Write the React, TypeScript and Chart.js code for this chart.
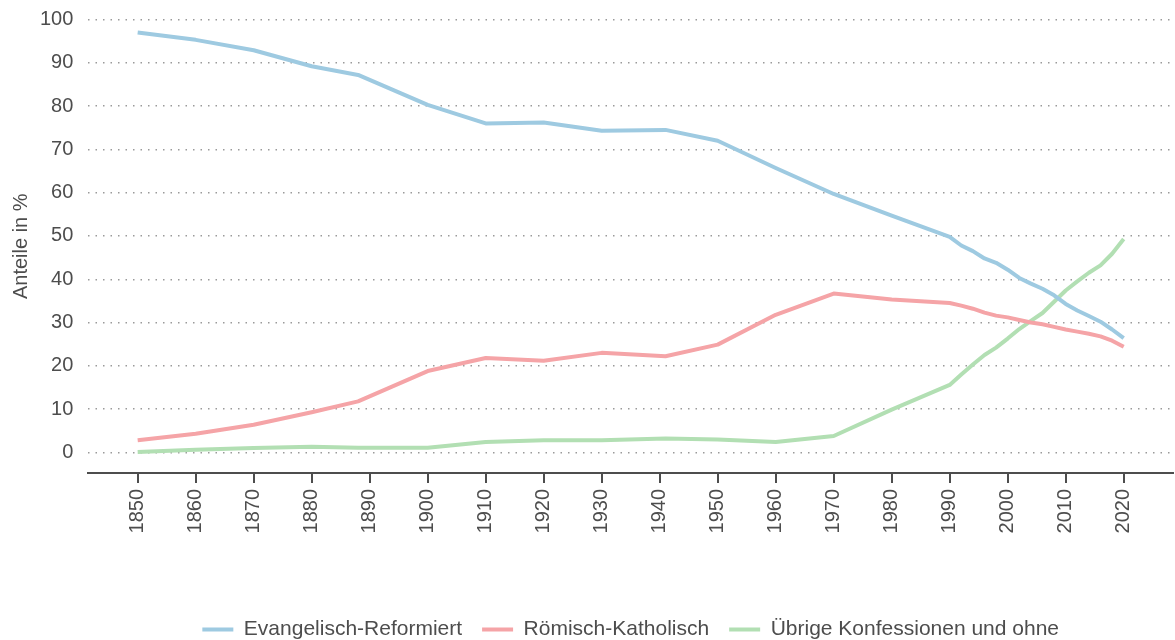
import React, { useEffect, useRef } from "react";
import { Chart, registerables } from "chart.js";

Chart.register(...registerables);

// Survey years (irregular) and shares in percent
const years = [1850, 1860, 1870, 1880, 1888, 1900, 1910, 1920, 1930, 1941, 1950, 1960, 1970, 1980, 1990, 1992, 1994, 1996, 1998, 2000, 2002, 2004, 2006, 2008, 2010, 2012, 2014, 2016, 2018, 2020];
const reformiert = [97.0, 95.3, 92.9, 89.2, 87.2, 80.3, 76.0, 76.2, 74.3, 74.5, 72.0, 65.7, 59.7, 54.7, 49.8, 47.8, 46.5, 44.8, 43.8, 42.2, 40.3, 39.0, 37.8, 36.3, 34.3, 32.8, 31.5, 30.2, 28.4, 26.4];
const katholisch = [2.8, 4.3, 6.4, 9.3, 11.8, 18.8, 21.8, 21.2, 23.0, 22.2, 24.9, 31.8, 36.7, 35.3, 34.5, 33.9, 33.2, 32.3, 31.6, 31.2, 30.6, 30.0, 29.6, 29.0, 28.4, 27.9, 27.4, 26.8, 25.8, 24.4];
const uebrige = [0.1, 0.6, 1.0, 1.3, 1.1, 1.1, 2.4, 2.8, 2.8, 3.2, 3.0, 2.4, 3.8, 9.9, 15.6, 18.0, 20.3, 22.5, 24.2, 26.3, 28.5, 30.4, 32.2, 34.8, 37.4, 39.5, 41.5, 43.2, 45.9, 49.3];

const seriesNames = ["Evangelisch-Reformiert", "Römisch-Katholisch", "Übrige Konfessionen und ohne"];
const xTicks = [1850, 1860, 1870, 1880, 1890, 1900, 1910, 1920, 1930, 1940, 1950, 1960, 1970, 1980, 1990, 2000, 2010, 2020];
const yTicks = [0, 10, 20, 30, 40, 50, 60, 70, 80, 90, 100];
const yTitle = "Anteile in %";

const COLORS = ["#9ecae1", "#f5a4a7", "#b2dfb3"];
const TEXT = "#4d4d4d";
const FONT = "'Liberation Sans', Arial, sans-serif";

const legendShift = {
  id: "legendShift",
  afterLayout(chart: any) {
    const l = chart.legend;
    if (!l) return;
    const ca = chart.chartArea;
    const off = (ca.left + ca.right) / 2 - (l.left + l.right) / 2;
    l.left += off;
    l.right += off;
    l.top += 10;
    l.bottom += 10;
  },
};

export default function App() {
  const ref = useRef<HTMLCanvasElement | null>(null);

  useEffect(() => {
    document.body.style.margin = "0";
    if (!ref.current) return;
    const series = [reformiert, katholisch, uebrige];
    const chart = new Chart(ref.current, {
      type: "line",
      data: {
        datasets: series.map((vals, i) => ({
          label: seriesNames[i],
          data: years.map((yr, j) => ({ x: yr, y: vals[j] })),
          borderColor: COLORS[i],
          backgroundColor: COLORS[i],
          borderWidth: 4,
          pointRadius: 0,
          tension: 0,
          borderJoinStyle: "round",
        })),
      },
      options: {
        responsive: false,
        animation: false,
        layout: { padding: { top: 19.5, right: 2, left: 0, bottom: 0 } },
        plugins: {
          tooltip: { enabled: false },
          legend: {
            position: "bottom",
            labels: {
              boxWidth: 31,
              boxHeight: 4,
              padding: 20,
              color: TEXT,
              font: { size: 21, family: FONT },
              generateLabels: (c: any) =>
                Chart.defaults.plugins.legend.labels
                  .generateLabels(c)
                  .map((it: any) => ({ ...it, lineWidth: 0 })),
            },
          },
        },
        scales: {
          x: {
            type: "linear",
            min: 1841.5,
            max: 2028.5,
            afterBuildTicks: (axis: any) => {
              axis.ticks = xTicks.map((v) => ({ value: v }));
            },
            afterFit: (s: any) => {
              s.height = 116;
            },
            ticks: {
              autoSkip: false,
              minRotation: 90,
              maxRotation: 90,
              padding: 6,
              color: TEXT,
              font: { size: 20, family: FONT },
              callback: (v: any) => String(v),
            },
            grid: {
              drawOnChartArea: false,
              drawTicks: true,
              tickLength: 10,
              color: TEXT,
              lineWidth: 2,
            },
            border: { display: true, color: TEXT, width: 2 },
          },
          y: {
            type: "linear",
            min: -4.75,
            max: 100,
            afterBuildTicks: (axis: any) => {
              axis.ticks = yTicks.map((v) => ({ value: v }));
            },
            ticks: {
              padding: 0,
              color: TEXT,
              font: { size: 20, family: FONT },
              callback: (v: any) => String(v),
            },
            grid: {
              drawTicks: true,
              tickLength: 15,
              tickColor: "rgba(0,0,0,0)",
              color: "#9a9a9a",
              lineWidth: 1.5,
            },
            border: { display: false, dash: [1.5, 6] },
            title: {
              display: true,
              text: yTitle,
              color: TEXT,
              font: { size: 20, family: FONT },
              padding: { top: 9, bottom: 7 },
            },
          },
        },
      },
      plugins: [legendShift],
    } as any);
    return () => chart.destroy();
  }, []);

  return (
    <div style={{ width: 1175, height: 640 }}>
      <canvas ref={ref} width={1175} height={640} />
    </div>
  );
}
